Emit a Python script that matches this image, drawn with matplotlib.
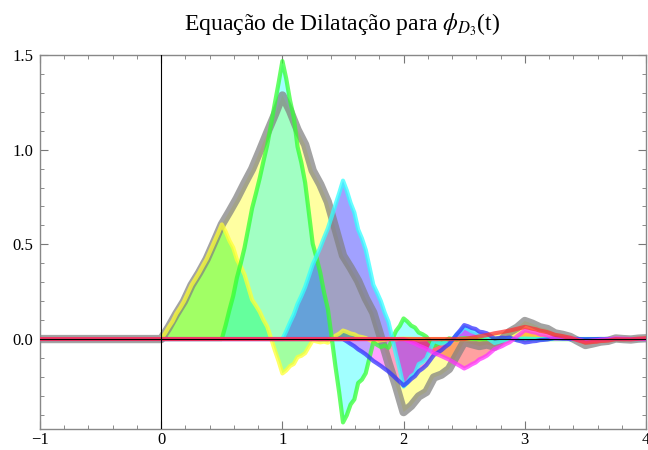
import numpy as np
import matplotlib.pyplot as plt
from matplotlib.ticker import MultipleLocator, FormatStrFormatter

plt.rcParams['font.family'] = ['Liberation Serif', 'DejaVu Serif']
plt.rcParams['mathtext.fontset'] = 'stix'

# phi_D3 sampled every 1/16 on [0, 5]
phi = [0.0000, 0.0630, 0.1339, 0.1988, 0.2847, 0.3498, 0.4225, 0.5130,
       0.6052, 0.6728, 0.7436, 0.8228, 0.8981, 0.9929, 1.0904, 1.1852,
       1.2863, 1.2057, 1.1052, 1.0267, 0.8899, 0.8164, 0.7241, 0.5835,
       0.4411, 0.3768, 0.3069, 0.2152, 0.1394, 0.0091, -0.1257, -0.2481,
       -0.3858, -0.3525, -0.3029, -0.2792, -0.2030, -0.1878, -0.1581, -0.0860,
       -0.0150, -0.0267, -0.0369, -0.0288, -0.0406, -0.0018, 0.0376, 0.0608,
       0.0953, 0.0809, 0.0621, 0.0531, 0.0299, 0.0223, 0.0113, -0.0104,
       -0.0315, -0.0229, -0.0134, -0.0093, 0.0030, -0.0002, -0.0024, 0.0022,
       0.0042, 0.0029, 0.0017, 0.0005, -0.0016, -0.0007, 0.0001, -0.0001,
       0.0002, 0.0001, -0.0001, 0.0000, 0.0000, 0.0000, 0.0000, 0.0000,
       0.0000]
phi_step = 1 / 16
# dilation coefficients h_k
h = [0.4705, 1.1411, 0.6504, -0.1909, -0.1208, 0.0498]

line_colors = ['#ffff33', '#33ff33', '#33ffff', '#3333ff', '#ff33ff', '#ff3333']
fill_colors = ['#ffff00', '#00ff00', '#00ffff', '#0000ff', '#ff00ff', '#ff0000', '#ffff00']

phi = np.array(phi)
s = np.arange(len(phi)) * phi_step

fig = plt.figure(figsize=(6.48, 4.5), dpi=100)
ax = fig.add_axes([40 / 648, 1 - 429 / 450, 606 / 648, 374 / 450])

# phi itself, then h_k * phi(2t - k)
curves = []
curves.append((np.concatenate([[-1.0], s, [6.0]]), np.concatenate([[0.0], phi, [0.0]])))
for k, hk in enumerate(h):
    t = np.concatenate([[-1.0], (s + k) / 2, [6.0]])
    y = np.concatenate([[0.0], hk * phi, [0.0]])
    curves.append((t, y))

for (t, y), fc in zip(curves, fill_colors):
    ax.fill_between(t, y, 0, color=fc, alpha=0.37, lw=0, zorder=1)

t, y = curves[0]
ax.plot(t, y, color='#808080', lw=6, alpha=0.72, solid_joinstyle='round', zorder=2)
for (t, y), lc in zip(curves[1:], line_colors):
    ax.plot(t, y, color=lc, lw=3, alpha=0.75, solid_joinstyle='round', zorder=3)

ax.axhline(0, color='black', lw=0.8, zorder=4)
ax.axvline(0, color='black', lw=0.8, zorder=4)

ax.set_xlim(-1, 4)
ax.set_ylim(-0.475, 1.5)
ax.xaxis.set_major_locator(MultipleLocator(1))
ax.xaxis.set_minor_locator(MultipleLocator(0.2))
ax.yaxis.set_major_locator(MultipleLocator(0.5))
ax.yaxis.set_minor_locator(MultipleLocator(0.1))
ax.yaxis.set_major_formatter(FormatStrFormatter('%.1f'))
ax.tick_params(which='both', direction='in', top=True, right=True, color='#777777', labelsize=12)
ax.tick_params(axis='y', pad=5)
ax.tick_params(axis='x', pad=2)
ax.tick_params(which='major', length=5.5)
ax.tick_params(which='minor', length=3)
for sp in ax.spines.values():
    sp.set_color('#888888')
    sp.set_linewidth(1)

fig.text(342 / 648, 1 - 25 / 450, 'Equação de Dilatação para $\\phi_{D_3}$(t)',
         ha='center', va='center', fontsize=17)

fig.savefig('out.png', dpi=100)
